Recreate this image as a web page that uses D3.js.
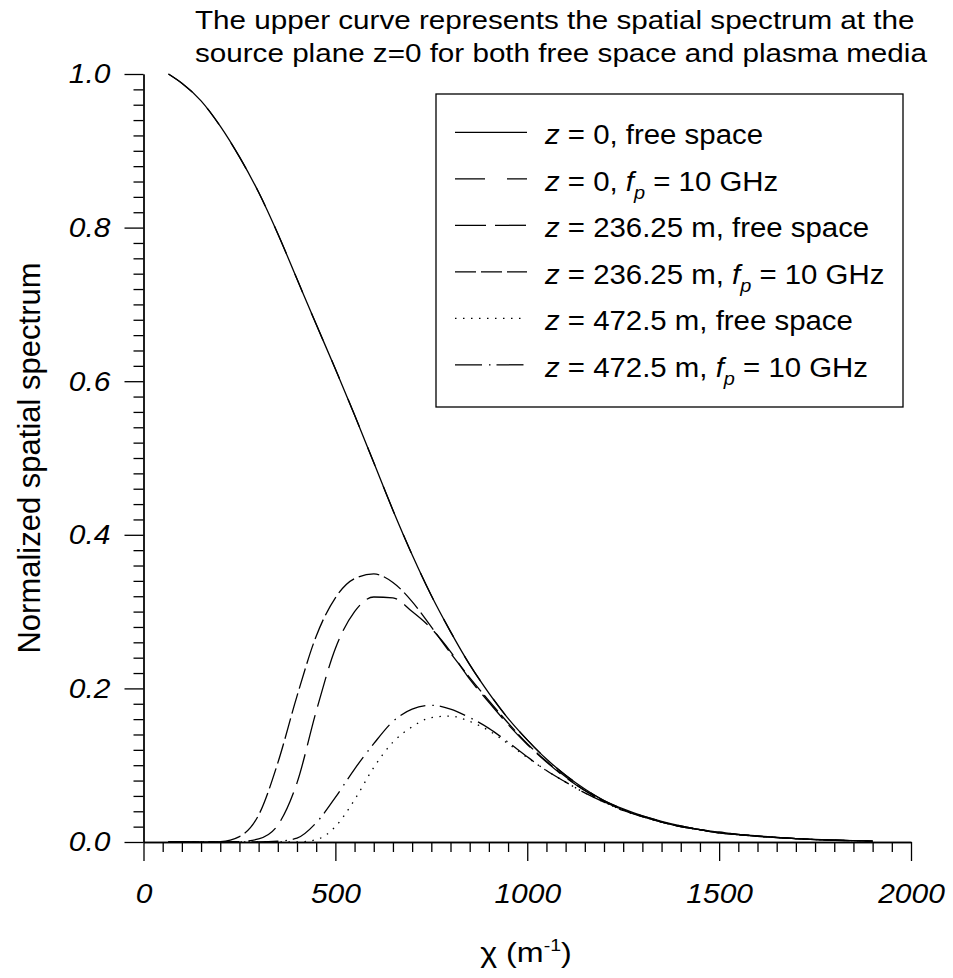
<!DOCTYPE html>
<html>
<head>
<meta charset="utf-8">
<script src="https://cdn.jsdelivr.net/npm/d3@7"></script>
<style>
  body { margin: 0; background: #fff; }
  text { font-family: "Liberation Sans", Arial, sans-serif; fill: #000; }
</style>
</head>
<body>
<svg id="chart" width="953" height="978"></svg>
<script>
// Spatial wavenumber grid (m^-1)
const chi = [65, 100, 150, 200, 250, 300, 350, 400, 450, 500, 550, 600, 650, 700, 750, 800,
  850, 900, 950, 1000, 1050, 1100, 1150, 1200, 1250, 1300, 1350, 1400, 1450, 1500, 1550,
  1600, 1650, 1700, 1750, 1800, 1850, 1900];

// Normalized spatial spectrum for each propagation distance / medium
const specZ0Free = [1.000, 0.988, 0.965, 0.932, 0.892, 0.846, 0.792, 0.733, 0.674, 0.616, 0.556,
  0.494, 0.432, 0.374, 0.321, 0.274, 0.231, 0.194, 0.161, 0.133, 0.108, 0.087, 0.069, 0.054,
  0.043, 0.034, 0.027, 0.021, 0.016, 0.013, 0.010, 0.008, 0.006, 0.0045, 0.0033, 0.0024, 0.0017, 0.0012];
const specZ0Plasma = [1.000, 0.988, 0.965, 0.932, 0.892, 0.846, 0.792, 0.733, 0.674, 0.616, 0.556,
  0.494, 0.432, 0.374, 0.321, 0.274, 0.231, 0.194, 0.161, 0.133, 0.108, 0.087, 0.069, 0.054,
  0.043, 0.034, 0.027, 0.021, 0.016, 0.013, 0.010, 0.008, 0.006, 0.0045, 0.0033, 0.0024, 0.0017, 0.0012];
const specZ236Free = [0, 0, 0, 0, 0.0005, 0.004, 0.022, 0.077, 0.170, 0.252, 0.300, 0.319, 0.318,
  0.300, 0.278, 0.248, 0.212, 0.182, 0.153, 0.127, 0.104, 0.084, 0.067, 0.053, 0.042, 0.033,
  0.026, 0.020, 0.016, 0.012, 0.0095, 0.0075, 0.0058, 0.0044, 0.0032, 0.0023, 0.0017, 0.0012];
const specZ236Plasma = [0, 0, 0, 0.0005, 0.007, 0.035, 0.103, 0.190, 0.268, 0.318, 0.343, 0.349,
  0.338, 0.313, 0.280, 0.246, 0.214, 0.184, 0.155, 0.128, 0.105, 0.085, 0.067, 0.053, 0.042,
  0.033, 0.026, 0.020, 0.016, 0.012, 0.0095, 0.0075, 0.0058, 0.0044, 0.0032, 0.0023, 0.0017, 0.0012];
const specZ472Free = [0, 0, 0, 0, 0, 0, 0, 0, 0.003, 0.020, 0.055, 0.097, 0.130, 0.150, 0.162,
  0.164, 0.157, 0.145, 0.128, 0.110, 0.093, 0.078, 0.064, 0.052, 0.041, 0.033, 0.026, 0.020,
  0.016, 0.012, 0.0095, 0.0075, 0.0058, 0.0044, 0.0032, 0.0023, 0.0017, 0.0012];
const specZ472Plasma = [0, 0, 0, 0, 0, 0, 0.001, 0.005, 0.025, 0.058, 0.095, 0.128, 0.157, 0.173,
  0.178, 0.173, 0.162, 0.148, 0.130, 0.111, 0.093, 0.078, 0.064, 0.052, 0.041, 0.033, 0.026,
  0.020, 0.016, 0.012, 0.0095, 0.0075, 0.0058, 0.0044, 0.0032, 0.0023, 0.0017, 0.0012];

// Axis ticks
const xMajorTicks = [0, 500, 1000, 1500, 2000];
const yMajorTicks = [0, 0.2, 0.4, 0.6, 0.8, 1.0];

// Legend entries: distance text and medium
const legendDistances = ["0", "0", "236.25 m", "236.25 m", "472.5 m", "472.5 m"];
const legendMedia = ["free", "plasma", "free", "plasma", "free", "plasma"];

const titleLines = [
  "The upper curve represents the spatial spectrum at the",
  "source plane z=0 for both free space and plasma media"
];

// Line style for each curve (same order as the legend)
const dashStyles = [null, "30,22,20,22", "31,9", "21,5", "1.5,6.5", "27,7,1.5,6"];
const series = [
  { values: specZ0Plasma,   dash: dashStyles[1] },
  { values: specZ236Free,   dash: dashStyles[2] },
  { values: specZ236Plasma, dash: dashStyles[3] },
  { values: specZ472Free,   dash: dashStyles[4] },
  { values: specZ472Plasma, dash: dashStyles[5] },
  { values: specZ0Free,     dash: dashStyles[0] }
];

const FONT = '"Liberation Sans", Arial, sans-serif';
const svg = d3.select("#chart");
const x = d3.scaleLinear().domain([0, 2000]).range([143.5, 911]);
const y = d3.scaleLinear().domain([0, 1]).range([842, 74]);

// Curves
const line = d3.line()
  .x((d, i) => x(chi[i]))
  .y(d => y(d))
  .curve(d3.curveMonotoneX);

svg.append("g").selectAll("path")
  .data(series)
  .join("path")
  .attr("d", s => line(s.values))
  .attr("fill", "none")
  .attr("stroke", "#000")
  .attr("stroke-width", 1.3)
  .attr("stroke-dasharray", s => s.dash);

// X axis: minor ticks every 50, major every 500
const xMinor = d3.range(0, 2001, 50).filter(v => v % 500 !== 0);
svg.append("g").attr("transform", `translate(0,${y(0)})`)
  .call(d3.axisBottom(x).tickValues(xMinor).tickSize(10).tickFormat("").tickSizeOuter(0));
const gx = svg.append("g").attr("transform", `translate(0,${y(0)})`)
  .call(d3.axisBottom(x).tickValues(xMajorTicks).tickSize(19).tickPadding(22)
    .tickFormat(d3.format("d")).tickSizeOuter(0));

// Y axis: minor ticks every 0.02, major every 0.2
const yMinor = d3.range(0, 51).filter(i => i % 10 !== 0).map(i => i / 50);
svg.append("g").attr("transform", `translate(${x(0)},0)`)
  .call(d3.axisLeft(y).tickValues(yMinor).tickSize(10).tickFormat("").tickSizeOuter(0));
const gy = svg.append("g").attr("transform", `translate(${x(0)},0)`)
  .call(d3.axisLeft(y).tickValues(yMajorTicks).tickSize(19).tickPadding(14)
    .tickFormat(d3.format(".1f")).tickSizeOuter(0));

svg.selectAll(".domain, .tick line").attr("stroke", "#000").attr("stroke-width", 1.3);
svg.selectAll(".tick text")
  .attr("font-family", FONT)
  .attr("font-size", 28)
  .attr("font-style", "italic")
  .attr("fill", "#000");
gx.selectAll(".tick text").attr("transform", "scale(1.07,1)");
gy.selectAll(".tick text").each(function () {
  const t = d3.select(this);
  const tx = +t.attr("x");
  t.attr("x", 0).attr("transform", `translate(${tx},0) scale(1.07,1)`);
});

// Axis titles
const xt = svg.append("text")
  .attr("transform", "translate(526,962) scale(1.15,1)")
  .attr("text-anchor", "middle")
  .attr("font-size", 28);
xt.append("tspan").text("\u03C7 (m");
xt.append("tspan").attr("font-size", 17).attr("dy", -11).text("-1");
xt.append("tspan").attr("dy", 11).text(")");

svg.append("text")
  .attr("transform", `translate(40,${(y(0) + y(1)) / 2}) rotate(-90)`)
  .attr("text-anchor", "middle")
  .attr("font-size", 31)
  .text("Normalized spatial spectrum");

// Title
svg.append("g").selectAll("text")
  .data(titleLines)
  .join("text")
  .attr("transform", (d, i) => `translate(195,${28.5 + i * 33}) scale(1.14,1)`)
  .attr("font-size", 26)
  .text(d => d);

// Legend
const lg = svg.append("g");
lg.append("rect")
  .attr("x", 436).attr("y", 94).attr("width", 467).attr("height", 313)
  .attr("fill", "#fff").attr("stroke", "#000").attr("stroke-width", 1.3);

legendDistances.forEach((dist, i) => {
  const ly = 132.3 + i * 46.5;
  lg.append("line")
    .attr("x1", 455).attr("x2", 527).attr("y1", ly).attr("y2", ly)
    .attr("stroke", "#000").attr("stroke-width", 1.3)
    .attr("stroke-dasharray", dashStyles[i]);
  const t = lg.append("text")
    .attr("transform", `translate(545,${ly + 12}) scale(1.05,1)`)
    .attr("font-size", 28);
  t.append("tspan").attr("font-style", "italic").text("z");
  t.append("tspan").text(` = ${dist}, `);
  if (legendMedia[i] === "free") {
    t.append("tspan").text("free space");
  } else {
    t.append("tspan").attr("font-style", "italic").text("f");
    t.append("tspan").attr("font-style", "italic").attr("font-size", 19).attr("dy", 8).text("p");
    t.append("tspan").attr("dy", -8).text(" = 10 GHz");
  }
});
</script>
</body>
</html>
